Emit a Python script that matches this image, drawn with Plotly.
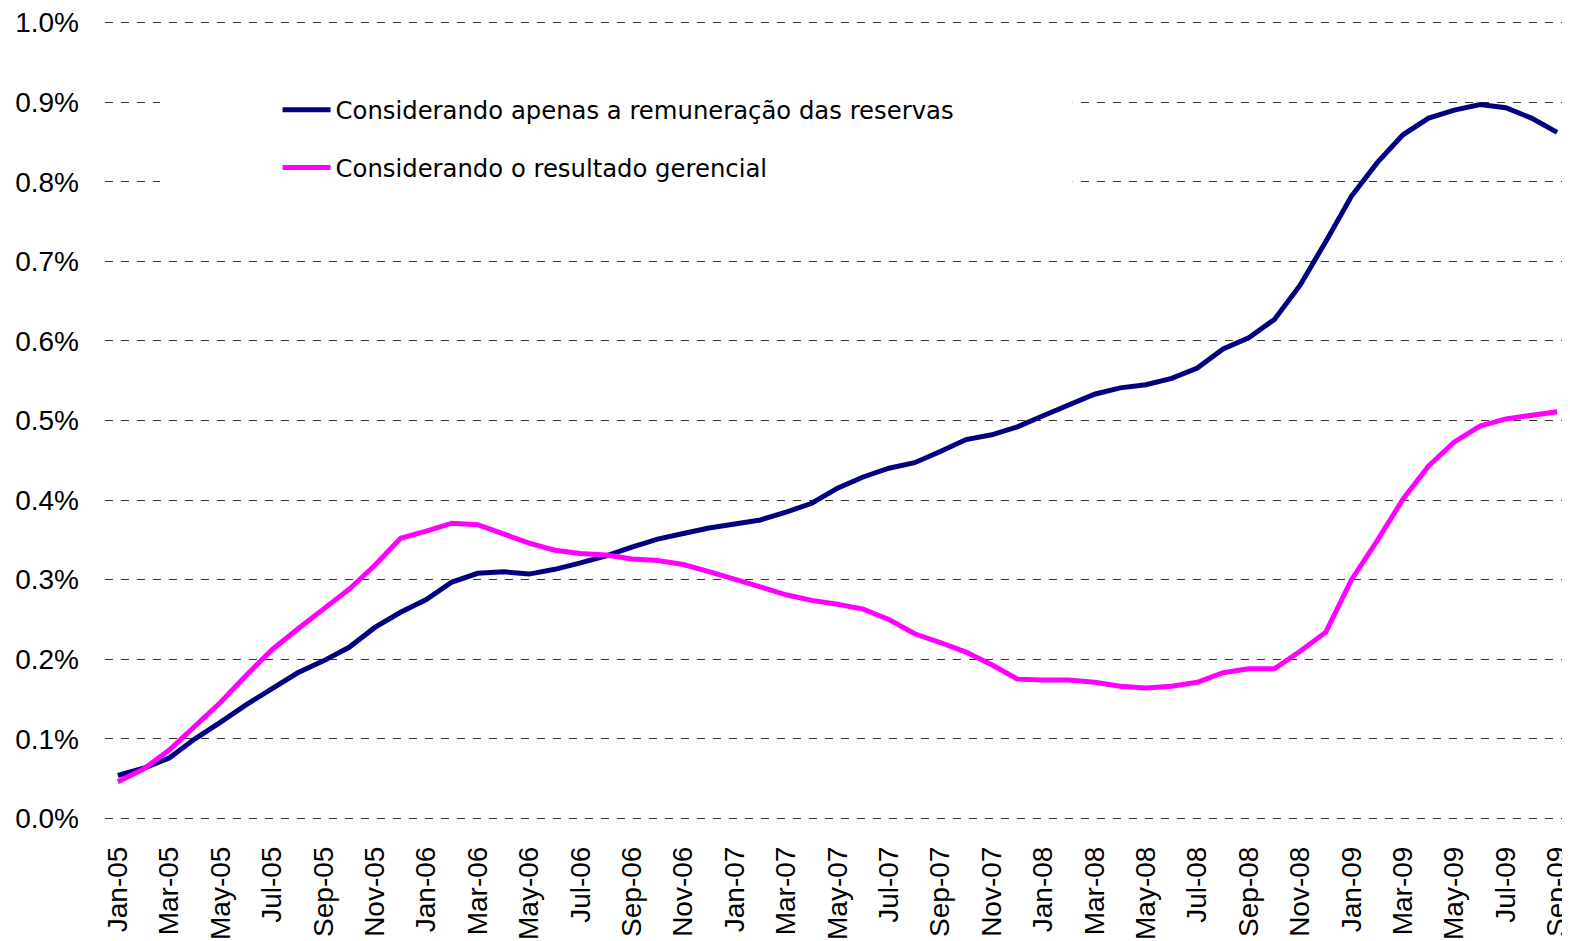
import plotly.graph_objects as go

months = [
    "Jan-05", "Feb-05", "Mar-05", "Apr-05", "May-05", "Jun-05", "Jul-05", "Aug-05", "Sep-05", "Oct-05", "Nov-05", "Dec-05",
    "Jan-06", "Feb-06", "Mar-06", "Apr-06", "May-06", "Jun-06", "Jul-06", "Aug-06", "Sep-06", "Oct-06", "Nov-06", "Dec-06",
    "Jan-07", "Feb-07", "Mar-07", "Apr-07", "May-07", "Jun-07", "Jul-07", "Aug-07", "Sep-07", "Oct-07", "Nov-07", "Dec-07",
    "Jan-08", "Feb-08", "Mar-08", "Apr-08", "May-08", "Jun-08", "Jul-08", "Aug-08", "Sep-08", "Oct-08", "Nov-08", "Dec-08",
    "Jan-09", "Feb-09", "Mar-09", "Apr-09", "May-09", "Jun-09", "Jul-09", "Aug-09", "Sep-09",
]

reservas = [
    0.054, 0.063, 0.076, 0.100, 0.121, 0.143, 0.163, 0.183, 0.198, 0.215, 0.240, 0.259,
    0.275, 0.297, 0.308, 0.310, 0.307, 0.313, 0.321, 0.330, 0.341, 0.351, 0.358, 0.365,
    0.370, 0.375, 0.385, 0.396, 0.415, 0.429, 0.440, 0.447, 0.461, 0.476, 0.482, 0.492,
    0.506, 0.520, 0.533, 0.541, 0.545, 0.553, 0.566, 0.590, 0.604, 0.627, 0.670, 0.725,
    0.782, 0.824, 0.859, 0.880, 0.890, 0.897, 0.893, 0.880, 0.862,
]

gerencial = [
    0.046, 0.062, 0.086, 0.117, 0.146, 0.180, 0.212, 0.238, 0.263, 0.288, 0.318, 0.352,
    0.361, 0.371, 0.369, 0.358, 0.346, 0.337, 0.333, 0.331, 0.326, 0.324, 0.319, 0.310,
    0.301, 0.291, 0.281, 0.274, 0.269, 0.263, 0.250, 0.232, 0.221, 0.209, 0.193, 0.175,
    0.174, 0.174, 0.171, 0.166, 0.164, 0.166, 0.171, 0.183, 0.188, 0.188, 0.210, 0.234,
    0.300, 0.349, 0.401, 0.443, 0.473, 0.493, 0.502, 0.506, 0.511,
]

series_names = [
    "Considerando apenas a remuneração das reservas",
    "Considerando o resultado gerencial",
]
series_colors = ["#000080", "#FF00FF"]

y_ticks = [0.0, 0.1, 0.2, 0.3, 0.4, 0.5, 0.6, 0.7, 0.8, 0.9, 1.0]
y_tick_text = ["0.0%", "0.1%", "0.2%", "0.3%", "0.4%", "0.5%", "0.6%", "0.7%", "0.8%", "0.9%", "1.0%"]
x_tick_vals = months[::2]

fig = go.Figure()
for name, vals, col, grp in zip(series_names, [reservas, gerencial], series_colors, ["a", "b"]):
    fig.add_trace(go.Scatter(
        x=months, y=vals, mode="lines", name=name, legendgroup=grp,
        line=dict(color=col, width=5),
        hoverinfo="skip",
    ))

# white box behind the legend hiding grid lines (between grid and traces)
fig.add_shape(type="rect", xref="x", yref="y",
              x0=1.64, x1=37.15, y0=0.745, y1=0.953,
              fillcolor="white", line=dict(width=0), layer="between")

# the page body has an 8px margin: the figure is sized and placed to compensate
fig.update_layout(
    width=1562, height=933,
    margin=dict(l=97, r=0, t=13, b=121, pad=0),
    plot_bgcolor="white", paper_bgcolor="white",
    font=dict(family="Liberation Sans, Arial, sans-serif", size=28, color="black"),
    showlegend=True,
    legend=dict(
        x=0.1178, y=0.9167, xanchor="left", yanchor="top",
        bgcolor="rgba(0,0,0,0)", borderwidth=0,
        font=dict(family="DejaVu Sans, sans-serif", size=24.3, color="black"),
        itemwidth=48, tracegroupgap=23, traceorder="grouped",
    ),
    xaxis=dict(
        type="category", range=[-0.5, 56.5], automargin=False,
        tickmode="array", tickvals=x_tick_vals, ticktext=x_tick_vals,
        tickangle=-90, ticks="", showgrid=False, showline=False, zeroline=False,
        ticklabelstandoff=20, ticklabeloverflow="allow",
        tickfont=dict(size=28, family="Liberation Sans, Arial, sans-serif"),
    ),
    yaxis=dict(
        range=[-0.002, 1.002], automargin=False,
        tickmode="array", tickvals=y_ticks, ticktext=y_tick_text,
        showgrid=True, gridcolor="#333333", gridwidth=1, griddash="8px,8px",
        showline=False, zeroline=False, ticks="",
        ticklabelstandoff=25, ticklabeloverflow="allow",
        tickfont=dict(size=28, family="Liberation Sans, Arial, sans-serif"),
    ),
)

fig.write_html("out.html")
